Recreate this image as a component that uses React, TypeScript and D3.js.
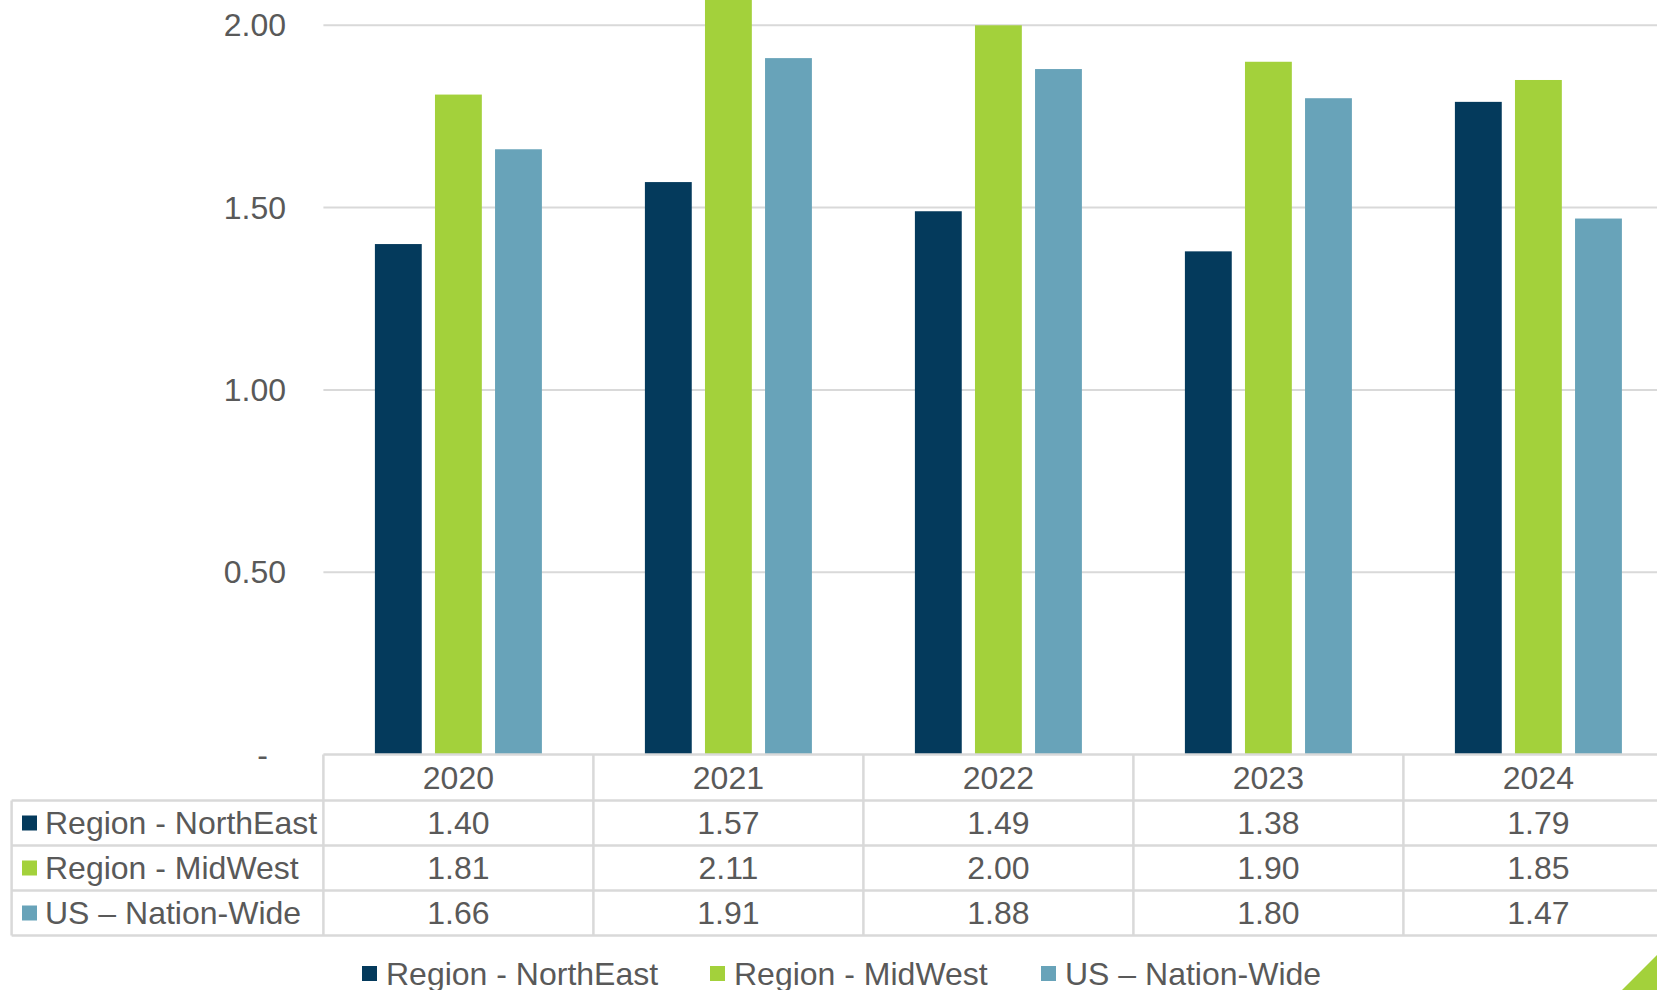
import React from "react";
import * as d3 from "d3";

const years = ["2020", "2021", "2022", "2023", "2024"];
const seriesNames = ["Region - NorthEast", "Region - MidWest", "US – Nation-Wide"];
const northEast = [1.4, 1.57, 1.49, 1.38, 1.79];
const midWest = [1.81, 2.11, 2.0, 1.9, 1.85];
const nationWide = [1.66, 1.91, 1.88, 1.8, 1.47];
const colors = ["#043A5C", "#A3D13B", "#68A3B9"];
const yTicks = [0, 0.5, 1.0, 1.5, 2.0];

const W = 1657;
const H = 990;
const FONT = "'Liberation Sans', Arial, sans-serif";
const TEXT = "#595959";
const GRID = "#d9d9d9";

export default function App() {
  const values = [northEast, midWest, nationWide];
  const x0 = 323.4;
  const colW = 270;
  const x = d3.scaleBand<string>().domain(years).range([x0, x0 + colW * years.length]).padding(0);
  const y = d3.scaleLinear().domain([0, 2]).range([754.5, 25.3]);
  const inner = d3
    .scaleBand<string>()
    .domain(seriesNames)
    .range([colW / 2 - 83.5, colW / 2 + 83.5])
    .paddingInner(0.22)
    .paddingOuter(0);

  const tableTop = y(0);
  const rowH = 45;
  const tableLeft = 11.6;
  const rowsY = [tableTop, tableTop + 46, tableTop + 46 + rowH, tableTop + 46 + 2 * rowH, tableTop + 46 + 3 * rowH];
  const tableBottom = rowsY[4];

  const legendMarkerX = [362, 710, 1041];
  const legendY = 973.5;

  return (
    <svg
      width={W}
      height={H}
      style={{ position: "absolute", left: 0, top: 0, background: "#fff" }}
      fontFamily={FONT}
    >
      <rect x={0} y={0} width={W} height={H} fill="#fff" />
      {/* gridlines */}
      {yTicks
        .filter((t) => t > 0)
        .map((t) => (
          <line key={t} x1={x0} x2={W} y1={y(t)} y2={y(t)} stroke={GRID} strokeWidth={2} />
        ))}
      {/* y tick labels */}
      {yTicks.map((t) => (
        <text
          key={"yl" + t}
          x={t === 0 ? 268 : 286}
          y={y(t)}
          textAnchor="end"
          dominantBaseline="central"
          fontSize={32}
          fill={TEXT}
        >
          {t === 0 ? "-" : d3.format(".2f")(t)}
        </text>
      ))}
      {/* bars */}
      {years.map((yr, i) => (
        <g key={yr} transform={`translate(${x(yr)},0)`}>
          {seriesNames.map((s, j) => {
            const v = values[j][i];
            return (
              <rect
                key={s}
                x={inner(s)}
                y={y(v)}
                width={inner.bandwidth()}
                height={y(0) - y(v)}
                fill={colors[j]}
              />
            );
          })}
        </g>
      ))}
      {/* table lines */}
      <line x1={x0} x2={W} y1={rowsY[0]} y2={rowsY[0]} stroke={GRID} strokeWidth={2.5} />
      {rowsY.slice(1).map((ry, k) => (
        <line key={"h" + k} x1={tableLeft} x2={W} y1={ry} y2={ry} stroke={GRID} strokeWidth={2.5} />
      ))}
      <line x1={tableLeft} x2={tableLeft} y1={rowsY[1]} y2={tableBottom} stroke={GRID} strokeWidth={2.5} />
      {years.map((yr) => (
        <line
          key={"v" + yr}
          x1={x(yr)}
          x2={x(yr)}
          y1={tableTop}
          y2={tableBottom}
          stroke={GRID}
          strokeWidth={2.5}
        />
      ))}
      {/* header years */}
      {years.map((yr) => (
        <text
          key={"hy" + yr}
          x={(x(yr) as number) + colW / 2}
          y={(rowsY[0] + rowsY[1]) / 2}
          textAnchor="middle"
          dominantBaseline="central"
          fontSize={32}
          fill={TEXT}
        >
          {yr}
        </text>
      ))}
      {/* row labels and values */}
      {seriesNames.map((s, j) => {
        const cy = (rowsY[j + 1] + rowsY[j + 2]) / 2;
        return (
          <g key={"row" + s}>
            <rect x={22} y={cy - 7.5} width={15} height={15} fill={colors[j]} />
            <text x={45} y={cy} dominantBaseline="central" fontSize={32} fill={TEXT}>
              {s}
            </text>
            {years.map((yr, i) => (
              <text
                key={yr}
                x={(x(yr) as number) + colW / 2}
                y={cy}
                textAnchor="middle"
                dominantBaseline="central"
                fontSize={32}
                fill={TEXT}
              >
                {d3.format(".2f")(values[j][i])}
              </text>
            ))}
          </g>
        );
      })}
      {/* legend */}
      {seriesNames.map((s, j) => (
        <g key={"lg" + s}>
          <rect x={legendMarkerX[j]} y={legendY - 7.5} width={15} height={15} fill={colors[j]} />
          <text
            x={legendMarkerX[j] + 24}
            y={legendY}
            dominantBaseline="central"
            fontSize={32}
            fill={TEXT}
          >
            {s}
          </text>
        </g>
      ))}
      {/* decorative corner triangle */}
      <polygon points={`${W - 35},${H} ${W},${H - 35} ${W},${H}`} fill="#A3D13B" />
    </svg>
  );
}
